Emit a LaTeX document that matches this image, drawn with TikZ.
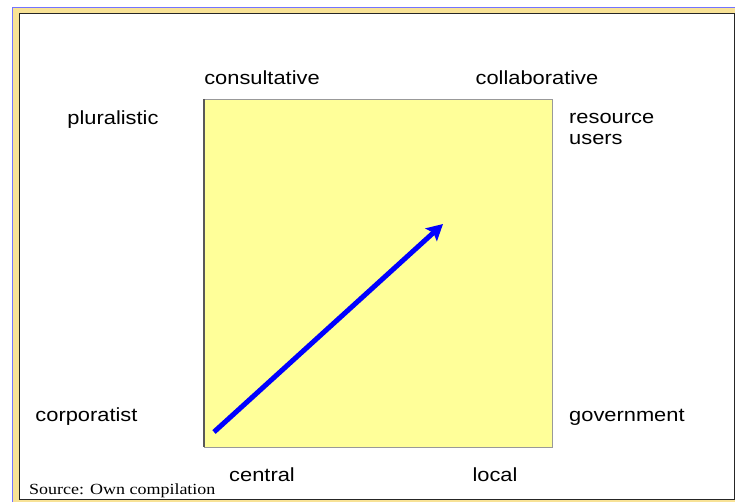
\documentclass[tikz,border=0pt]{standalone}
\usepackage{fontspec}
\usetikzlibrary{arrows.meta}
\newfontfamily\lblfont[FakeStretch=1.15]{Liberation Sans}
\newfontfamily\srcfont[FakeStretch=1.16]{Liberation Serif}
\definecolor{framegold}{HTML}{F8E296}
\definecolor{paleyellow}{HTML}{FFFF99}

\begin{document}
\begin{tikzpicture}[x=1pt,y=-1pt]
\tikzset{every node/.style={inner sep=0pt},
  lbl/.style={font=\lblfont\fontsize{19}{21}\selectfont, anchor=base},
  trend/.style={line width=5pt, blue, -{Stealth[length=16pt,width=17pt,inset=3pt]}}}
\useasboundingbox (0,0) rectangle (735,502);
% frame
\fill [framegold] (12,7) rectangle (745,512);
\draw [blue!55!white, line width=1.5pt] (12.5,512) -- (12.5,7.5) -- (745,7.5);
\draw [black!85, fill=white, line width=1pt] (19.5,14) rectangle (734,499);
% matrix
\draw [gray!80, fill=paleyellow] (204,99) rectangle (552,447);
\draw [black!65, line width=1.5pt] (204,99) -- (204,447);
% labels
\node [lbl] (consult) at (262,85) {consultative};
\node [lbl] (collab) at (537,85) {collaborative};
\node [lbl] (plural) at (113,125) {pluralistic};
\node [lbl, anchor=base west] (users) at (569,124) {resource};
\node [lbl, anchor=base west] (users2) at (569,145) {users};
\node [lbl] (corp) at (86.5,421) {corporatist};
\node [lbl, anchor=base west] (govt) at (569,421) {government};
\node [lbl] (central) at (262,481) {central};
\node [lbl] (local) at (495,481) {local};
\node [anchor=base west, font=\srcfont\fontsize{15.5}{17}\selectfont] (source) at (29,494) {Source: Own compilation};
% trend
\coordinate (start) at (214,432);
\coordinate (goal) at (443,224);
\draw [trend] (start) -- (goal);
\end{tikzpicture}
\end{document}
